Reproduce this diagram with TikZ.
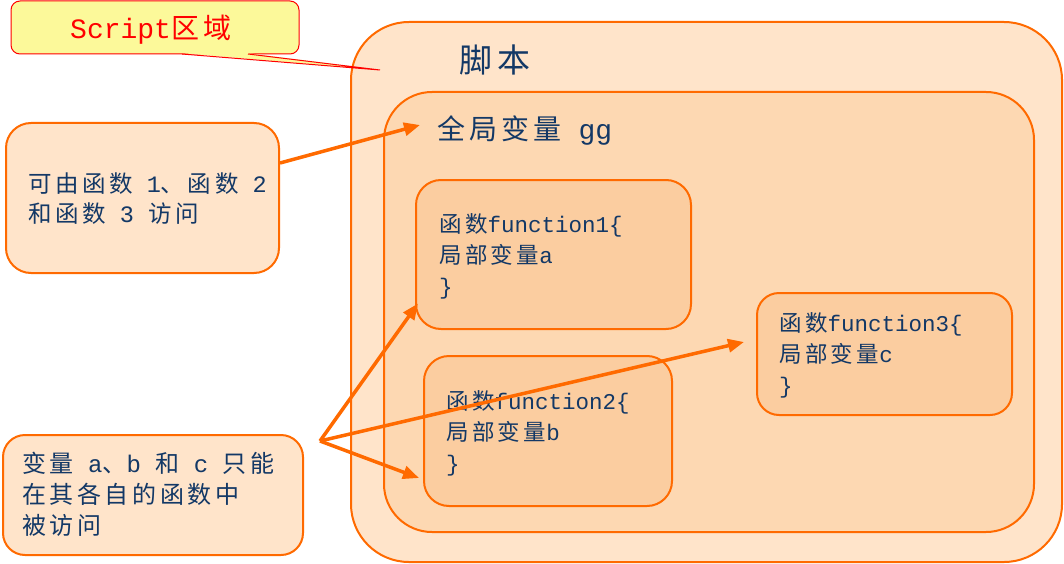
\documentclass[tikz,border=0pt]{standalone}
\usepackage{fontspec}
\setmainfont[LetterSpace=15]{Noto Sans CJK SC}
\newfontfamily\monof{Liberation Mono}
\newcommand\M[1]{{\monof #1}}
\usetikzlibrary{arrows.meta}
\definecolor{orng}{HTML}{FF6A00}
\definecolor{peachA}{HTML}{FFE4CA}
\definecolor{peachB}{HTML}{FDD8B2}
\definecolor{peachC}{HTML}{FBCDA0}
\definecolor{callfill}{HTML}{FCF99A}
\definecolor{tblue}{HTML}{133866}
\tikzset{
  box/.style={draw=orng, line width=2pt, inner sep=0pt},
  txt/.style={align=left, inner sep=0pt, text=tblue, anchor=west},
  arr/.style={draw=orng, line width=3.5pt, -{Triangle[length=16pt,width=13pt]}},
}
\begin{document}
\begin{tikzpicture}[x=1pt,y=-1pt]
\useasboundingbox (0,0) rectangle (1064,564);
% outer script box
\node[box, fill=peachA, rounded corners=58pt, minimum width=711pt, minimum height=540pt] (outer) at (706.5,292) {};
\node[box, fill=peachB, rounded corners=48pt, minimum width=650pt, minimum height=440pt] (inner) at (709,312) {};
\node[txt, font=\fontsize{33}{40}\selectfont] (title) at (459,60) {脚本};
\node[txt, font=\fontsize{28}{32}\selectfont] (glob) at (437,130) {全局变量\M{ gg}};
% function boxes
\node[box, fill=peachC, rounded corners=25pt, minimum width=275pt, minimum height=149pt] (f1) at (553.5,254.5) {};
\node[box, fill=peachC, rounded corners=25pt, minimum width=248pt, minimum height=150pt] (f2) at (548,431) {};
\node[box, fill=peachC, rounded corners=22pt, minimum width=255pt, minimum height=122pt] (f3) at (884.5,354) {};
\node[txt, font=\fontsize{22.5}{31}\selectfont] (f1t) at (439,256) {函数\M{function1\{}\\局部变量\M{a}\\\M{\}}};
\node[txt, font=\fontsize{22.5}{31}\selectfont] (f2t) at (446,433) {函数\M{function2\{}\\局部变量\M{b}\\\M{\}}};
\node[txt, font=\fontsize{22.5}{31}\selectfont] (f3t) at (779,355) {函数\M{function3\{}\\局部变量\M{c}\\\M{\}}};
% left boxes
\node[box, fill=peachA, rounded corners=25pt, minimum width=273pt, minimum height=150pt] (b1) at (142.5,198) {};
\node[box, fill=peachA, rounded corners=22pt, minimum width=300pt, minimum height=120pt] (b2) at (153,495) {};
\node[txt, font=\fontsize{23.5}{30}\selectfont] (b1t) at (28,199) {可由函数\M{ 1}、函数\M{ 2}\\和函数\M{ 3 }访问};
\node[txt, font=\fontsize{24}{31}\selectfont] (b2t) at (22,494) {变量\M{ a}、\M{b }和\M{ c }只能\\在其各自的函数中\\被访问};
% callout
\node[draw=red, line width=1pt, fill=callfill, rounded corners=9pt, minimum width=288pt, minimum height=53pt, inner sep=0pt] (call) at (155,27.5) {};
\fill[callfill] (182,53.2) -- (380,70) -- (248,53.2) -- cycle;
\coordinate (tip) at (380,70);
\draw[red, line width=1pt] (182,54) -- (tip) -- (248,54);
\node[inner sep=0pt, anchor=west, text=red, font=\fontsize{28}{32}\selectfont] (callt) at (70,30) {\M{Script}区域};
% arrows
\coordinate (t1) at (420,125);
\coordinate (s2) at (320,441);
\draw[arr] ([yshift=35pt]b1.east) -- (t1);
\draw[arr] (s2) -- ([xshift=3pt,yshift=-49pt]f1.west);
\draw[arr] (s2) -- ([xshift=-12pt,yshift=12pt]f3.west);
\draw[arr] (s2) -- ([xshift=-4pt,yshift=-47pt]f2.west);
\end{tikzpicture}
\end{document}
